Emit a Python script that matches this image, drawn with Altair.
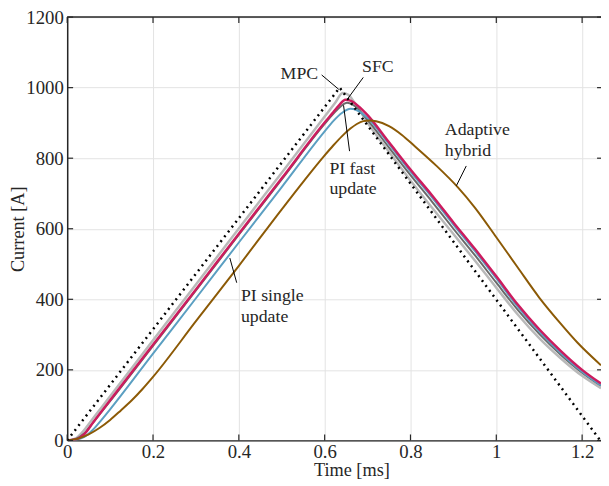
import altair as alt
import pandas as pd

FONT = "Liberation Serif"
TXT = "#262626"

# ---------------- data ----------------
X_TICKS = [0, 0.2, 0.4, 0.6, 0.8, 1.0, 1.2]
Y_TICKS = [0, 200, 400, 600, 800, 1000, 1200]

T_REF = [0, 0.635, 1.25]
I_REF = [0, 1000, -13]

T_MPC = [0, 0.02, 0.04, 0.06, 0.1, 0.2, 0.3, 0.4, 0.5, 0.6, 0.625, 0.642, 0.655, 0.67, 0.7, 0.75, 0.8, 0.85, 0.9, 0.95, 1.0, 1.05, 1.1, 1.15, 1.2, 1.244]
I_MPC = [0, 6, 30, 62, 125, 284, 442, 601, 759, 918, 958, 985, 980, 957, 900, 818, 737, 660, 585, 510, 433, 357, 290, 233, 183, 148]

T_PIF = [0, 0.02, 0.04, 0.06, 0.1, 0.2, 0.3, 0.4, 0.5, 0.6, 0.625, 0.652, 0.67, 0.7, 0.75, 0.8, 0.85, 0.9, 0.95, 1.0, 1.05, 1.1, 1.15, 1.2, 1.244]
I_PIF = [0, 4, 20, 50, 111, 268, 425, 583, 740, 897, 932, 957, 948, 908, 830, 752, 677, 600, 525, 447, 370, 302, 243, 192, 155]

T_PIS = [0, 0.02, 0.04, 0.06, 0.08, 0.1, 0.2, 0.3, 0.4, 0.5, 0.6, 0.62, 0.64, 0.66, 0.675, 0.7, 0.75, 0.8, 0.85, 0.9, 0.95, 1.0, 1.05, 1.1, 1.15, 1.2, 1.244]
I_PIS = [0, 2, 10, 30, 58, 88, 246, 403, 561, 718, 876, 905, 928, 940, 936, 914, 840, 762, 689, 612, 537, 459, 379, 309, 248, 195, 156]

T_SFC = [0, 0.02, 0.04, 0.06, 0.1, 0.2, 0.3, 0.4, 0.5, 0.6, 0.62, 0.635, 0.648, 0.66, 0.68, 0.7, 0.75, 0.8, 0.85, 0.9, 0.95, 1.0, 1.05, 1.1, 1.15, 1.2, 1.244]
I_SFC = [0, 3, 18, 50, 114, 271, 428, 586, 743, 901, 930, 952, 966, 963, 946, 922, 845, 768, 695, 618, 543, 465, 385, 315, 254, 200, 161]

T_AH = [0, 0.025, 0.05, 0.075, 0.1, 0.125, 0.15, 0.175, 0.2, 0.3, 0.4, 0.5, 0.55, 0.6, 0.62, 0.64, 0.66, 0.675, 0.69, 0.705, 0.72, 0.75, 0.78, 0.81, 0.86, 0.91, 0.95, 1.0, 1.05, 1.1, 1.15, 1.19, 1.244]
I_AH = [0, 5, 17, 35, 58, 85, 113, 145, 180, 338, 495, 655, 733, 808, 836, 862, 884, 897, 905, 907, 905, 891, 866, 834, 779, 718, 660, 576, 490, 405, 331, 276, 213]

SERIES = ["MPC", "PI fast update", "PI single update", "SFC", "Adaptive hybrid"]
COLORS = ["#b9b9b9", "#6a6a6a", "#5b9fc2", "#cc1c5e", "#8c5a06"]
WIDTHS = [2.5, 2.0, 2.0, 2.5, 2.0]
DATA = [(T_MPC, I_MPC), (T_PIF, I_PIF), (T_PIS, I_PIS), (T_SFC, I_SFC), (T_AH, I_AH)]

LABELS = ["MPC", "SFC", "PI fast", "update", "Adaptive", "hybrid", "PI single", "update"]
LABEL_T = [0.541, 0.724, 0.611, 0.611, 0.880, 0.880, 0.405, 0.405]
LABEL_I = [1039, 1057, 768, 712, 880, 820, 408, 350]
LABEL_ALIGN = ["center", "center", "left", "left", "left", "left", "left", "left"]

LEAD_T = [0.593, 0.690, 0.658, 0.930, 0.395]
LEAD_I = [1036, 1029, 820, 778, 447]
LEAD_T2 = [0.633, 0.654, 0.644, 0.907, 0.379]
LEAD_I2 = [995, 969, 950, 722, 517]

# ---------------- layout ----------------
W, H = 541, 429
XMAX = 1.244

xs = alt.Scale(domain=[0, XMAX], nice=False, zero=False)
ys = alt.Scale(domain=[0, 1200], nice=False)

xaxis = alt.Axis(values=X_TICKS, format="~g", grid=True, gridColor="#e3e3e3", gridWidth=1,
                 ticks=False, domain=True, domainColor=TXT, domainWidth=1.5,
                 labelFont=FONT, labelFontSize=19, labelColor=TXT, labelPadding=2,
                 labelFlush=False, labelOverlap=False,
                 title="Time [ms]", titleFont=FONT, titleFontSize=18.5, titleFontWeight="normal",
                 titleColor=TXT, titlePadding=0, titleX=288, titleAlign="center")
yaxis = alt.Axis(values=Y_TICKS, format="d", grid=True, gridColor="#e3e3e3", gridWidth=1,
                 ticks=False, domain=True, domainColor=TXT, domainWidth=1.5,
                 labelFont=FONT, labelFontSize=19, labelColor=TXT, labelPadding=4,
                 labelFlush=False, labelOverlap=False,
                 title="Current [A]", titleFont=FONT, titleFontSize=18.5, titleFontWeight="normal",
                 titleColor=TXT, titleX=-50, titleY=H / 2, titleAngle=-90,
                 titleAlign="center", titleBaseline="middle")

X = lambda f="t": alt.X(f"{f}:Q", scale=xs, axis=xaxis)
Y = lambda f="I": alt.Y(f"{f}:Q", scale=ys, axis=yaxis)

rows = []
for k, (name, (ts, vs)) in enumerate(zip(SERIES, DATA)):
    for t, v in zip(ts, vs):
        rows.append({"series": name, "order": k, "t": t, "I": v})
df = pd.DataFrame(rows)

layers = []
for k, name in enumerate(SERIES):
    sub = df[df.series == name]
    layers.append(
        alt.Chart(sub).mark_line(clip=True, color=COLORS[k], strokeWidth=WIDTHS[k],
                                 interpolate="monotone")
        .encode(x=X(), y=Y())
    )

ref = alt.Chart(pd.DataFrame({"t": T_REF, "I": I_REF})).mark_line(
    clip=True, color="#000000", strokeWidth=2.5, strokeDash=[2, 4.2], strokeCap="butt"
).encode(x=X(), y=Y())

# border ticks (inward) and top border
xt = pd.DataFrame({"t": X_TICKS})
yt = pd.DataFrame({"I": Y_TICKS})
tick_b = alt.Chart(xt).mark_rule(color=TXT, strokeWidth=1.2).encode(
    x=X(), y=alt.value(H), y2=alt.value(H - 6))
tick_t = alt.Chart(xt).mark_rule(color=TXT, strokeWidth=1.2).encode(
    x=X(), y=alt.value(0), y2=alt.value(6))
tick_l = alt.Chart(yt).mark_rule(color=TXT, strokeWidth=1.2).encode(
    y=Y(), x=alt.value(0), x2=alt.value(6))
tick_r = alt.Chart(yt).mark_rule(color=TXT, strokeWidth=1.2).encode(
    y=Y(), x=alt.value(W - 4), x2=alt.value(W))
top = alt.Chart(pd.DataFrame({"I": [1200]})).mark_rule(color=TXT, strokeWidth=1.5).encode(
    y=Y(), x=alt.value(0), x2=alt.value(W))

lead = alt.Chart(pd.DataFrame({"t": LEAD_T, "I": LEAD_I, "t2": LEAD_T2, "I2": LEAD_I2})).mark_rule(
    color="#000000", strokeWidth=1).encode(x=X(), y=Y(), x2="t2:Q", y2="I2:Q")

lab = pd.DataFrame({"txt": LABELS, "t": LABEL_T, "I": LABEL_I, "al": LABEL_ALIGN})
text_c = alt.Chart(lab[lab.al == "center"]).mark_text(
    font=FONT, fontSize=18, color=TXT, align="center", baseline="middle").encode(
    x=X(), y=Y(), text="txt:N")
text_l = alt.Chart(lab[lab.al == "left"]).mark_text(
    font=FONT, fontSize=18, color=TXT, align="left", baseline="middle").encode(
    x=X(), y=Y(), text="txt:N")

chart = alt.layer(
    *layers, ref, tick_b, tick_t, tick_l, tick_r, top, lead, text_c, text_l
).properties(
    width=W, height=H,
    autosize=alt.AutoSizeParams(type="none"),
    padding={"left": 60, "top": 6, "right": 0, "bottom": 43},
).configure_view(stroke=None).configure(font=FONT, background="white")

chart.save("out.html", embed_options={"renderer": "svg", "actions": False})
